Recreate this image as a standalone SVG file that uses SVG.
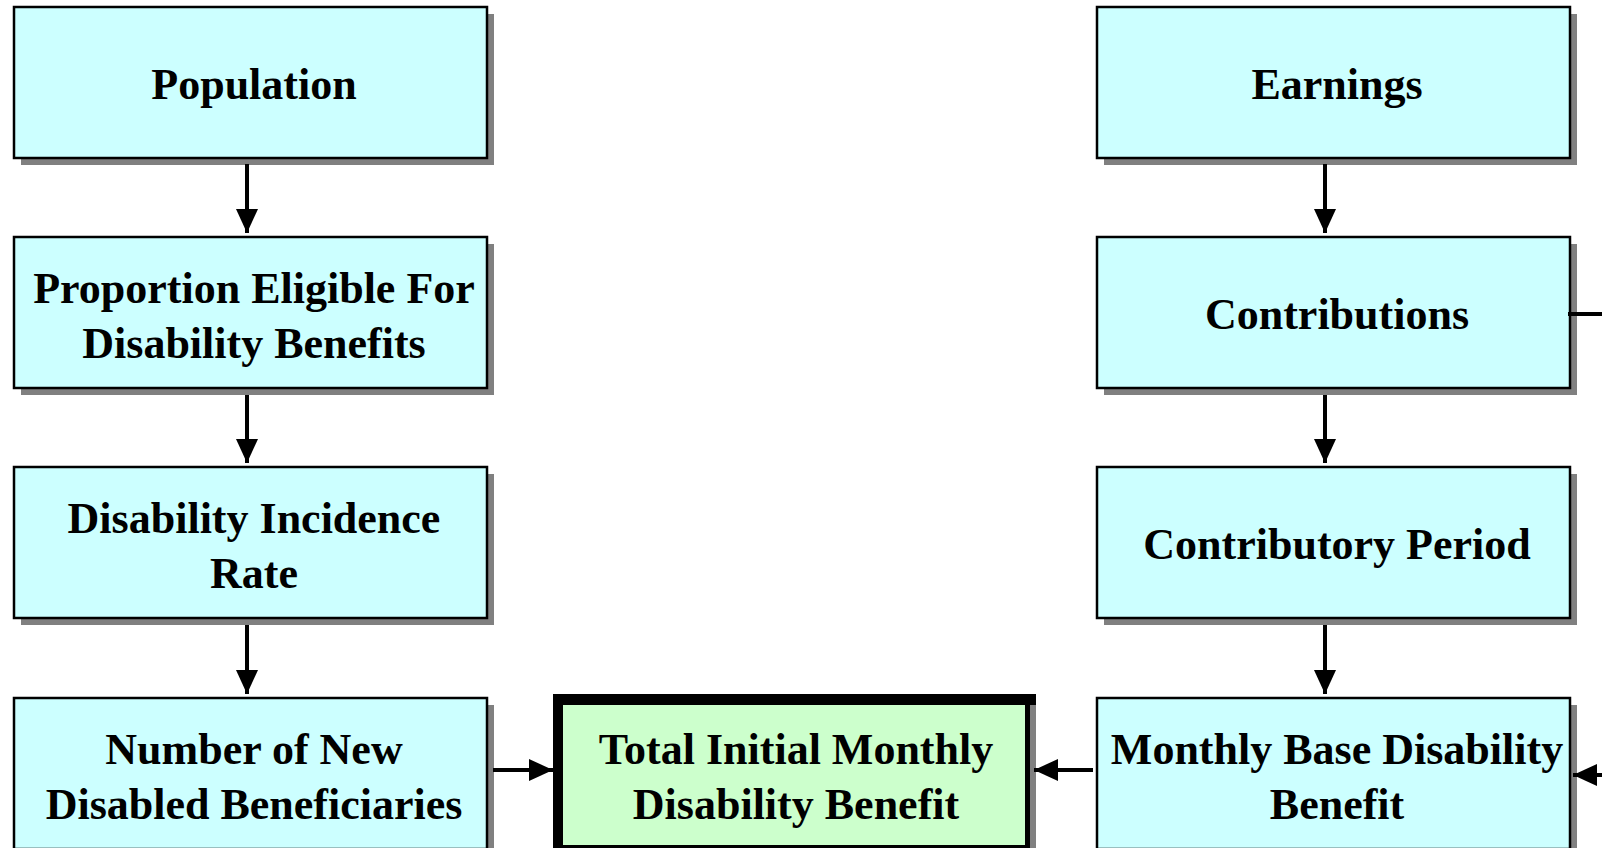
<svg xmlns="http://www.w3.org/2000/svg" width="1602" height="848" viewBox="0 0 1602 848">
<defs>
<style>
.sh{fill:#808080;}
.box{fill:#CCFFFF;stroke:#000;stroke-width:2.5;}
.t{font-family:"Liberation Serif","Times New Roman",serif;font-weight:bold;font-size:44px;fill:#000;text-anchor:middle;}
.c{stroke:#000;stroke-width:4;fill:none;}
</style>
<marker id="ah" markerUnits="userSpaceOnUse" markerWidth="24" markerHeight="24" viewBox="0 0 24 24" refX="24" refY="12" orient="auto">
<path d="M0,1 L24,12 L0,23 Z" fill="#000"/>
</marker>
</defs>
<rect width="1602" height="848" fill="#fff"/>
<g id="population">
<rect class="sh" x="21" y="14" width="473" height="151"/>
<rect class="box" x="14" y="7" width="473" height="151"/>
<text class="t" x="254" y="99">Population</text>
</g>
<g id="proportion">
<rect class="sh" x="21" y="244" width="473" height="151"/>
<rect class="box" x="14" y="237" width="473" height="151"/>
<text class="t" x="254" y="303">Proportion Eligible For</text>
<text class="t" x="254" y="358">Disability Benefits</text>
</g>
<g id="incidence">
<rect class="sh" x="21" y="474" width="473" height="151"/>
<rect class="box" x="14" y="467" width="473" height="151"/>
<text class="t" x="254" y="533">Disability Incidence</text>
<text class="t" x="254" y="588">Rate</text>
</g>
<g id="number">
<rect class="sh" x="21" y="705" width="473" height="151"/>
<rect class="box" x="14" y="698" width="473" height="151"/>
<text class="t" x="254" y="764">Number of New</text>
<text class="t" x="254" y="819">Disabled Beneficiaries</text>
</g>
<g id="earnings">
<rect class="sh" x="1104" y="14" width="473" height="151"/>
<rect class="box" x="1097" y="7" width="473" height="151"/>
<text class="t" x="1337" y="99">Earnings</text>
</g>
<g id="contributions">
<rect class="sh" x="1104" y="244" width="473" height="151"/>
<rect class="box" x="1097" y="237" width="473" height="151"/>
<text class="t" x="1337" y="329">Contributions</text>
</g>
<g id="period">
<rect class="sh" x="1104" y="474" width="473" height="151"/>
<rect class="box" x="1097" y="467" width="473" height="151"/>
<text class="t" x="1337" y="559">Contributory Period</text>
</g>
<g id="monthly">
<rect class="sh" x="1104" y="705" width="473" height="151"/>
<rect class="box" x="1097" y="698" width="473" height="151"/>
<text class="t" x="1337" y="764">Monthly Base Disability</text>
<text class="t" x="1337" y="819">Benefit</text>
</g>
<g id="total">
<rect x="553" y="694" width="483" height="154" fill="#000"/>
<rect x="563" y="705" width="462" height="140" fill="#CCFFCC"/>
<rect class="sh" x="1030" y="705" width="6" height="143"/>
<text class="t" x="796" y="764">Total Initial Monthly</text>
<text class="t" x="796" y="819">Disability Benefit</text>
</g>
<g id="connectors">
<line class="c" x1="247" y1="164" x2="247" y2="233" marker-end="url(#ah)"/>
<line class="c" x1="247" y1="395" x2="247" y2="463" marker-end="url(#ah)"/>
<line class="c" x1="247" y1="625" x2="247" y2="694" marker-end="url(#ah)"/>
<line class="c" x1="1325" y1="164" x2="1325" y2="233" marker-end="url(#ah)"/>
<line class="c" x1="1325" y1="395" x2="1325" y2="463" marker-end="url(#ah)"/>
<line class="c" x1="1325" y1="625" x2="1325" y2="694" marker-end="url(#ah)"/>
<line class="c" x1="493" y1="770" x2="553" y2="770" marker-end="url(#ah)"/>
<line class="c" x1="1093" y1="770" x2="1034" y2="770" marker-end="url(#ah)"/>
<line class="c" x1="1568" y1="314" x2="1602" y2="314"/>
<line class="c" x1="1602" y1="775" x2="1573" y2="775" marker-end="url(#ah)"/>
</g>
</svg>
